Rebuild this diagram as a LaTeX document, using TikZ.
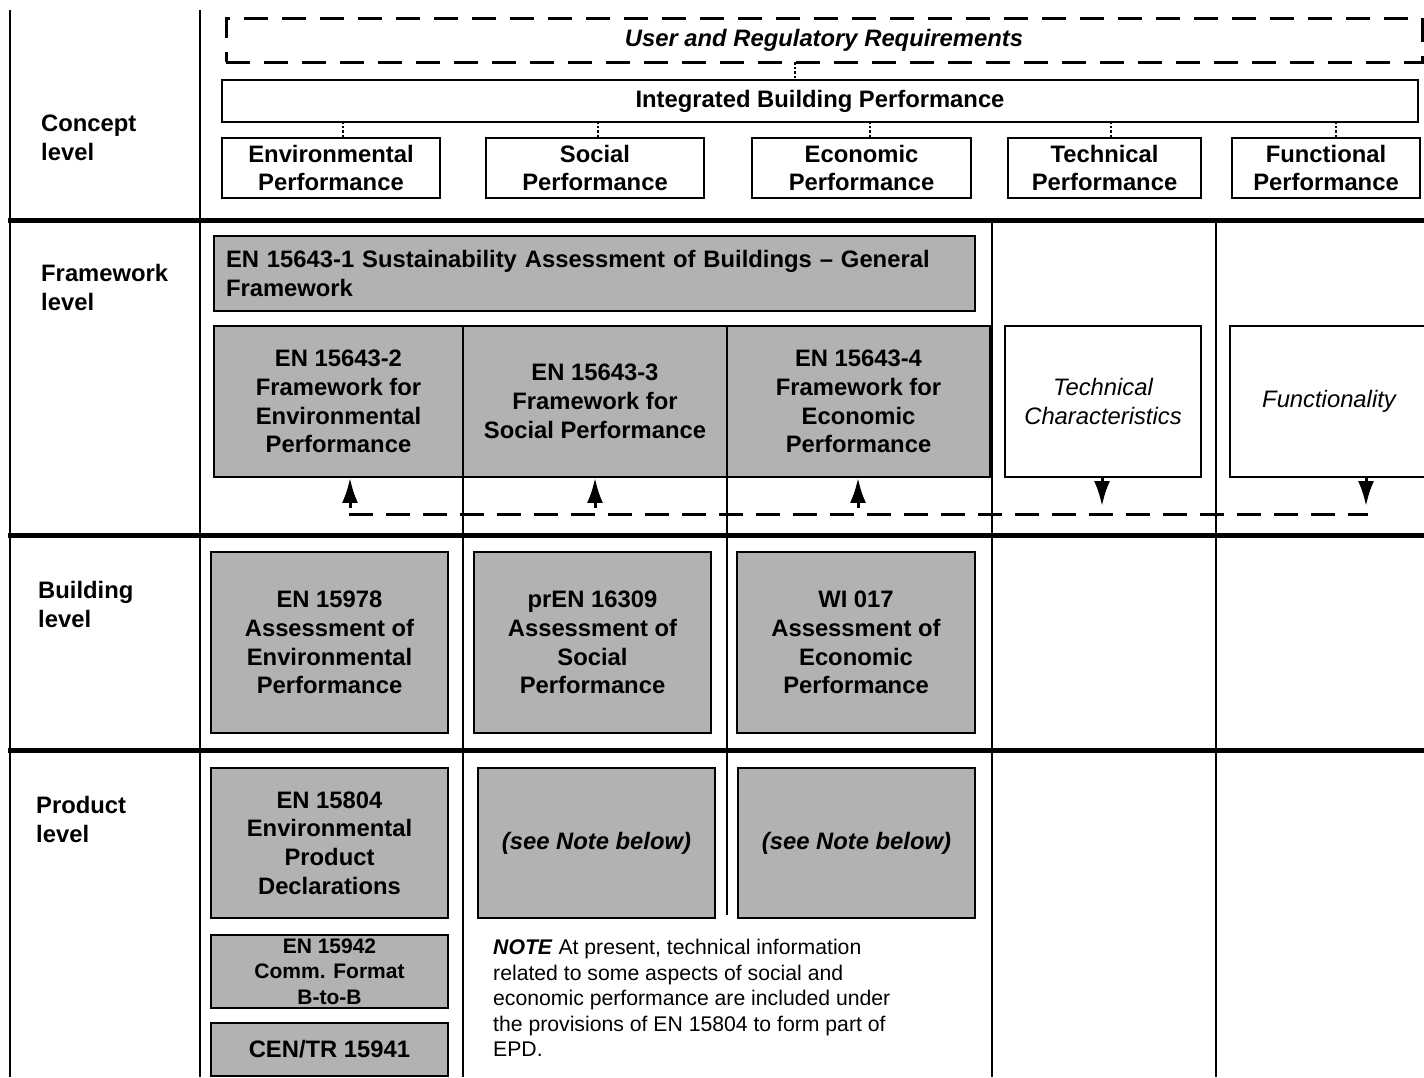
\documentclass[tikz,border=0pt]{standalone}
\usepackage{fontspec}
\setmainfont{Liberation Sans}
\usepackage{tikz}
\usetikzlibrary{arrows.meta}
\usetikzlibrary{calc}

\tikzset{
  thinline/.style={line width=1.8pt},
  levelline/.style={line width=5pt},
  whitebox/.style={shape=rectangle, draw=black, fill=white, line width=1.8pt, align=center, inner sep=0pt, font=\fontsize{23.8}{28.8}\selectfont\bfseries},
  graybox/.style={whitebox, fill=black!30},
  reqbox/.style={whitebox, dash pattern=on 24pt off 14pt, line width=3pt, font=\fontsize{23.8}{28.8}\selectfont\bfseries\itshape},
  levellabel/.style={anchor=west, align=left, inner sep=0pt, font=\fontsize{23.8}{28.8}\selectfont\bfseries},
  dotline/.style={line width=2pt, dash pattern=on 2.5pt off 2pt},
  flow/.style={line width=3pt, dash pattern=on 24pt off 13pt},
  flowarrow/.style={line width=3pt, -{Latex[length=25pt,width=16pt]}}
}

\begin{document}
\begin{tikzpicture}[x=1pt, y=-1pt]
\useasboundingbox (0,0) rectangle (1424,1077);
% grid of the table
\draw[thinline] (10,10) -- (10,1077);
\draw[thinline] (200,10) -- (200,1077);
\draw[thinline] (463,477) -- (463,1077);
\draw[thinline] (727,477) -- (727,915);
\foreach \x in {992,1216}
  \draw[thinline] (\x,220) -- (\x,1077);
\foreach \y in {220,535,750}
  \draw[levelline] (8,\y) -- (1424,\y);

\node[levellabel] (concept) at (41,137.5) {Concept\\level};
\node[levellabel] (framework) at (41,287.5) {Framework\\level};
\node[levellabel] (building) at (38,604.5) {Building\\level};
\node[levellabel] (product) at (36,819.5) {Product\\level};

% concept level
\node[reqbox, minimum width=1196pt, minimum height=44pt] (req) at (824,40) {User and Regulatory Requirements};
\node[whitebox, minimum width=1196pt, minimum height=42pt] (ibp) at (820,101) {Integrated Building Performance};
\node[whitebox, minimum width=218pt, minimum height=60pt] (env) at (331,168) {Environmental\\Performance};
\node[whitebox, minimum width=218pt, minimum height=60pt] (soc) at (595,168) {Social\\Performance};
\node[whitebox, minimum width=219pt, minimum height=60pt] (eco) at (861.5,168) {Economic\\Performance};
\node[whitebox, minimum width=193pt, minimum height=60pt] (tec) at (1104.5,168) {Technical\\Performance};
\node[whitebox, minimum width=188pt, minimum height=60pt] (fun) at (1326,168) {Functional\\Performance};
\coordinate (rq) at (795,62);
\draw[dotline] (rq) -- (rq |- ibp.north);
\foreach \b/\d in {env/12, soc/3, eco/8, tec/6, fun/10}
  \draw[dotline] ([xshift=\d pt]\b.north) -- ([xshift=\d pt]\b.north |- ibp.south);

% framework level
\node[graybox, minimum width=761pt, minimum height=75pt, text width=737pt, align=left] (gen) at (594.5,273.5) {EN 15643-1 Sustainability Assessment of Buildings – General\\Framework};
\node[graybox, minimum width=249pt, minimum height=151pt] (fw2) at (338.5,401.5) {EN 15643-2\\Framework for\\Environmental\\Performance};
\node[graybox, minimum width=264pt, minimum height=151pt] (fw3) at (595,401.5) {EN 15643-3\\Framework for\\Social Performance};
\node[graybox, minimum width=263pt, minimum height=151pt] (fw4) at (858.5,401.5) {EN 15643-4\\Framework for\\Economic\\Performance};
\node[whitebox, minimum width=196pt, minimum height=151pt, font=\fontsize{23.8}{28.8}\selectfont\itshape] (tch) at (1103,401.5) {Technical\\Characteristics};
\node[whitebox, minimum width=198pt, minimum height=151pt, font=\fontsize{23.8}{28.8}\selectfont\itshape] (fnc) at (1329,401.5) {Functionality};

\coordinate (fl) at (349,514);
\coordinate (fr) at (1368,514);
\draw[flow] (fl) -- (fr);
\coordinate (a1) at (350,508);
\coordinate (a2) at (595,508);
\coordinate (a3) at (858,508);
\coordinate (a4) at (1102,506);
\coordinate (a5) at (1366,506);
\foreach \c/\b in {a1/fw2, a2/fw3, a3/fw4}
  \draw[flowarrow] (\c) -- (\c |- \b.south);
\foreach \c/\b in {a4/tch, a5/fnc}
  \draw[flowarrow] (\c |- \b.south) -- (\c);

% building level
\node[graybox, minimum width=237pt, minimum height=181pt] (b1) at (329.5,642.5) {EN 15978\\Assessment of\\Environmental\\Performance};
\node[graybox, minimum width=237pt, minimum height=181pt] (b2) at (592.5,642.5) {prEN 16309\\Assessment of\\Social\\Performance};
\node[graybox, minimum width=238pt, minimum height=181pt] (b3) at (856,642.5) {WI 017\\Assessment of\\Economic\\Performance};

% product level
\node[graybox, minimum width=237pt, minimum height=150pt] (p1) at (329.5,843) {EN 15804\\Environmental\\Product\\Declarations};
\node[graybox, minimum width=237pt, minimum height=150pt, font=\fontsize{23.8}{28.8}\selectfont\bfseries\itshape] (p2) at (596.5,843) {(see Note below)};
\node[graybox, minimum width=237pt, minimum height=150pt, font=\fontsize{23.8}{28.8}\selectfont\bfseries\itshape] (p3) at (856.5,843) {(see Note below)};
\node[graybox, minimum width=237pt, minimum height=73pt, font=\fontsize{21}{25.5}\selectfont\bfseries] (p4) at (329.5,971.5) {EN 15942\\Comm. Format\\B-to-B};
\node[graybox, minimum width=237pt, minimum height=53pt] (p5) at (329.5,1049.5) {CEN/TR 15941};
\node[anchor=north west, align=left, inner sep=0pt, font=\fontsize{21.2}{25.5}\selectfont] (note) at (493,939) {\textbf{\textit{NOTE}} At present, technical information\\related to some aspects of social and\\economic performance are included under\\the provisions of EN 15804 to form part of\\EPD.};
\end{tikzpicture}
\end{document}
